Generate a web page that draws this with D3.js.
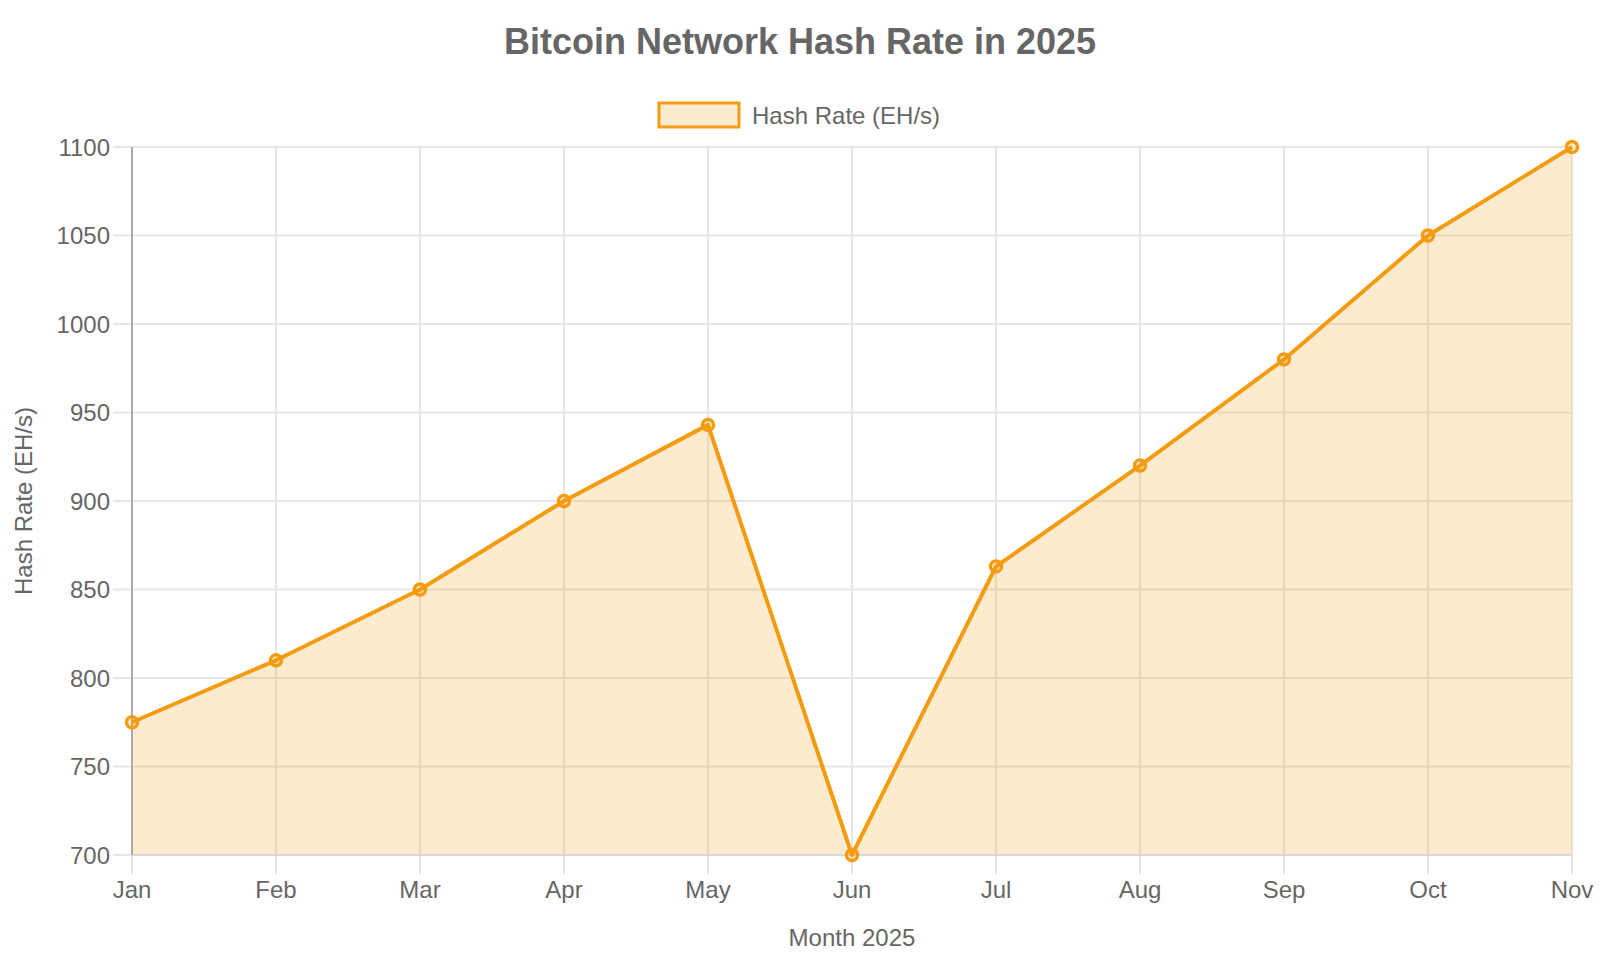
<!DOCTYPE html>
<html>
<head>
<meta charset="utf-8">
<script src="https://cdn.jsdelivr.net/npm/d3@7"></script>
<style>
    body { margin: 0; background: #fff; }
    svg { display: block; font-family: "Liberation Sans", Arial, sans-serif; }
</style>
</head>
<body>
<svg id="chart" width="1600" height="960"></svg>
<script>
const months = ["Jan", "Feb", "Mar", "Apr", "May", "Jun", "Jul", "Aug", "Sep", "Oct", "Nov"];
const hashRate = [775, 810, 850, 900, 943, 700, 863, 920, 980, 1050, 1100];
const yTicks = [700, 750, 800, 850, 900, 950, 1000, 1050, 1100];
const seriesName = "Hash Rate (EH/s)";

const color = "#f39c12";
const fillColor = "rgba(243, 156, 18, 0.2)";
const textColor = "#666";
const gridColor = "#e6e6e6";

const margin = { top: 147, right: 28, bottom: 105, left: 132 };
const width = 1600 - margin.left - margin.right;
const height = 960 - margin.top - margin.bottom;

const svg = d3.select("#chart");

const x = d3.scalePoint()
    .domain(months)
    .range([0, width]);

const y = d3.scaleLinear()
    .domain([700, 1100])
    .range([height, 0]);

const data = months.map((m, i) => ({ month: m, value: hashRate[i] }));

// Title
svg.append("text")
    .attr("x", 800)
    .attr("y", 41)
    .attr("text-anchor", "middle")
    .attr("dominant-baseline", "central")
    .attr("font-size", 36)
    .attr("font-weight", "bold")
    .attr("fill", textColor)
    .text("Bitcoin Network Hash Rate in 2025");

// Legend
const legend = svg.append("g").attr("transform", "translate(659,103)");
legend.append("rect")
    .attr("width", 80)
    .attr("height", 24)
    .attr("fill", fillColor)
    .attr("stroke", color)
    .attr("stroke-width", 3);
legend.append("text")
    .attr("x", 93)
    .attr("y", 12)
    .attr("dominant-baseline", "central")
    .attr("font-size", 24)
    .attr("fill", textColor)
    .text(seriesName);

const chart = svg.append("g").attr("transform", `translate(${margin.left},${margin.top})`);

// Grid lines (with tick extensions)
const grid = chart.append("g").attr("class", "grid");
grid.selectAll(".hgrid")
    .data(yTicks)
    .enter()
    .append("line")
    .attr("class", "hgrid")
    .attr("x1", -19)
    .attr("x2", width)
    .attr("y1", d => y(d))
    .attr("y2", d => y(d))
    .attr("stroke", gridColor)
    .attr("stroke-width", 2);
grid.selectAll(".vgrid")
    .data(months)
    .enter()
    .append("line")
    .attr("class", "vgrid")
    .attr("x1", d => x(d))
    .attr("x2", d => x(d))
    .attr("y1", 0)
    .attr("y2", height + 19)
    .attr("stroke", gridColor)
    .attr("stroke-width", 2);

// Area fill
const area = d3.area()
    .x(d => x(d.month))
    .y0(y(700))
    .y1(d => y(d.value));
chart.append("path")
    .datum(data)
    .attr("d", area)
    .attr("fill", fillColor);

// Axis borders
chart.append("line")
    .attr("x1", 0).attr("x2", width)
    .attr("y1", height).attr("y2", height)
    .attr("stroke", "#d8d8d8")
    .attr("stroke-width", 2);
chart.append("line")
    .attr("x1", 0).attr("x2", 0)
    .attr("y1", 0).attr("y2", height)
    .attr("stroke", "#aaa")
    .attr("stroke-width", 2);

// Line
const line = d3.line()
    .x(d => x(d.month))
    .y(d => y(d.value));
chart.append("path")
    .datum(data)
    .attr("d", line)
    .attr("fill", "none")
    .attr("stroke", color)
    .attr("stroke-width", 4)
    .attr("stroke-linejoin", "round");

// Points
chart.selectAll(".pt")
    .data(data)
    .enter()
    .append("circle")
    .attr("class", "pt")
    .attr("cx", d => x(d.month))
    .attr("cy", d => y(d.value))
    .attr("r", 5.5)
    .attr("fill", fillColor)
    .attr("stroke", color)
    .attr("stroke-width", 3.5);

// Y tick labels
chart.append("g")
    .selectAll("text")
    .data(yTicks)
    .enter()
    .append("text")
    .attr("x", -22)
    .attr("y", d => y(d))
    .attr("text-anchor", "end")
    .attr("dominant-baseline", "central")
    .attr("font-size", 24)
    .attr("fill", textColor)
    .text(d => d);

// X tick labels
chart.append("g")
    .selectAll("text")
    .data(months)
    .enter()
    .append("text")
    .attr("x", d => x(d))
    .attr("y", height + 34)
    .attr("text-anchor", "middle")
    .attr("dominant-baseline", "central")
    .attr("font-size", 24)
    .attr("fill", textColor)
    .text(d => d);

// Axis titles
chart.append("text")
    .attr("x", width / 2)
    .attr("y", height + 82)
    .attr("text-anchor", "middle")
    .attr("dominant-baseline", "central")
    .attr("font-size", 24)
    .attr("fill", textColor)
    .text("Month 2025");

chart.append("text")
    .attr("transform", `translate(${23 - margin.left},${height / 2}) rotate(-90)`)
    .attr("text-anchor", "middle")
    .attr("dominant-baseline", "central")
    .attr("font-size", 24)
    .attr("fill", textColor)
    .text("Hash Rate (EH/s)");
</script>
</body>
</html>
